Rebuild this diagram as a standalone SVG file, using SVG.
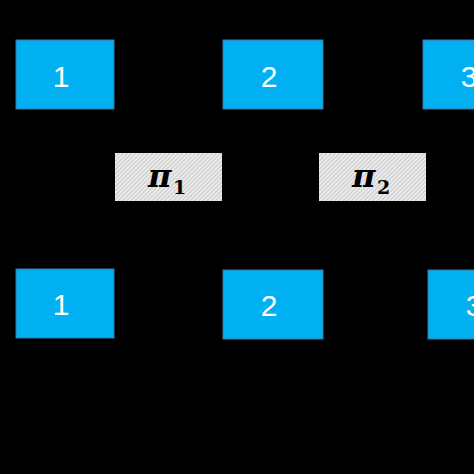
<svg xmlns="http://www.w3.org/2000/svg" width="474" height="474" viewBox="0 0 474 474">
<defs>
<pattern id="hatch" width="3" height="3" patternUnits="userSpaceOnUse" patternTransform="rotate(45)">
<rect width="3" height="3" fill="#ebebeb"/>
<line x1="0" y1="0" x2="0" y2="3" stroke="#a8a8a8" stroke-width="1"/>
</pattern>
</defs>
<style>
.blue{fill:#00b0f0;stroke:#3a76a8;stroke-width:1}
.num{font-family:"Liberation Sans",Arial,sans-serif;font-size:30px;fill:#ffffff;text-anchor:middle}
.pi{fill:url(#hatch);stroke:none}
.pit{font-family:"DejaVu Serif","Liberation Serif",serif;font-weight:bold;fill:#000000}
</style>
<rect width="474" height="474" fill="#000000"/>
<g id="connectors"></g>
<g id="top1"><rect class="blue" x="16" y="40" width="98" height="69"/><text class="num" x="61" y="87">1</text></g>
<g id="top2"><rect class="blue" x="223" y="40" width="100" height="69"/><text class="num" x="269" y="87">2</text></g>
<g id="top3"><rect class="blue" x="423" y="40" width="100" height="69"/><text class="num" x="469" y="87">3</text></g>
<g id="pi1"><rect class="pi" x="115" y="153" width="107" height="48"/><text class="pit" y="187"><tspan x="148" font-style="italic" font-size="32">π</tspan><tspan x="173" y="194" font-size="19">1</tspan></text></g>
<g id="pi2"><rect class="pi" x="319" y="153" width="107" height="48"/><text class="pit" y="187"><tspan x="352" font-style="italic" font-size="32">π</tspan><tspan x="377" y="194" font-size="19">2</tspan></text></g>
<g id="bot1"><rect class="blue" x="16" y="269" width="98" height="69"/><text class="num" x="61" y="315">1</text></g>
<g id="bot2"><rect class="blue" x="223" y="270" width="100" height="69"/><text class="num" x="269" y="316">2</text></g>
<g id="bot3"><rect class="blue" x="428" y="270" width="100" height="69"/><text class="num" x="474" y="316">3</text></g>
</svg>
